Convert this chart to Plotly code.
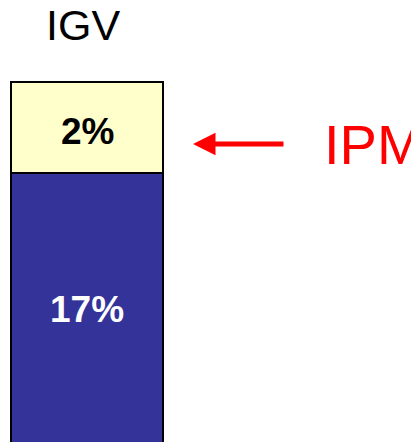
import plotly.graph_objects as go

# Data
category = ["IGV"]
segment_names = ["Base", "IPM"]
segment_values = [17, 2]
segment_labels = ["17%", "2%"]
segment_colors = ["#333399", "#FFFFCC"]
label_colors = ["white", "black"]
callout_text = "IPM"

FONT = "Arial, Liberation Sans, sans-serif"
# page body has an 8px margin, so the figure fills the rest of the window
W, H = 411, 434

fig = go.Figure()
for name, val, col in zip(segment_names, segment_values, segment_colors):
    fig.add_trace(go.Bar(
        x=category, y=[val], name=name, width=1,
        marker=dict(color=col, line=dict(color="black", width=2)),
        hoverinfo="skip",
    ))

ylow, yhigh = 11.088, 20.626

annotations = []
# title above bar
annotations.append(dict(x=category[0], xref="x", y=1 - 16.5 / H, yref="paper",
                        xanchor="center", yanchor="middle", xshift=-4,
                        text=category[0], showarrow=False,
                        font=dict(family=FONT, size=43, color="black")))
# segment labels
base = 0
for i, (val, lab, lc) in enumerate(zip(segment_values, segment_labels, label_colors)):
    lo, hi = base, base + val
    vis_lo = max(lo, ylow)
    ymid = (vis_lo + hi) / 2
    annotations.append(dict(x=category[0], xref="x", y=ymid, yref="y",
                            xanchor="center", yanchor="middle",
                            text="<b>%s</b>" % lab, showarrow=False,
                            yshift=-4 if i == 1 else -2,
                            font=dict(family=FONT, size=37, color=lc)))
    base = hi

# arrow
arrow_y = 1 - 136 / H
annotations.append(dict(x=185 / W, y=arrow_y, xref="paper", yref="paper",
                        text="", showarrow=True, ax=92, ay=0,
                        arrowhead=2, arrowsize=0.9, arrowwidth=5,
                        arrowcolor="red", standoff=0, startstandoff=0))
# callout text
annotations.append(dict(x=314 / W, y=arrow_y, xref="paper", yref="paper",
                        xanchor="left", yanchor="middle", text=callout_text,
                        showarrow=False,
                        font=dict(family=FONT, size=56, color="red")))

fig.update_layout(
    width=W, height=H,
    margin=dict(l=0, r=0, t=0, b=0),
    barmode="stack",
    showlegend=False,
    plot_bgcolor="white", paper_bgcolor="white",
    xaxis=dict(range=[-0.520, 2.184], visible=False, fixedrange=True),
    yaxis=dict(range=[ylow, yhigh], visible=False, fixedrange=True),
    annotations=annotations,
)

fig.write_html("out.html", config={"displayModeBar": False})
